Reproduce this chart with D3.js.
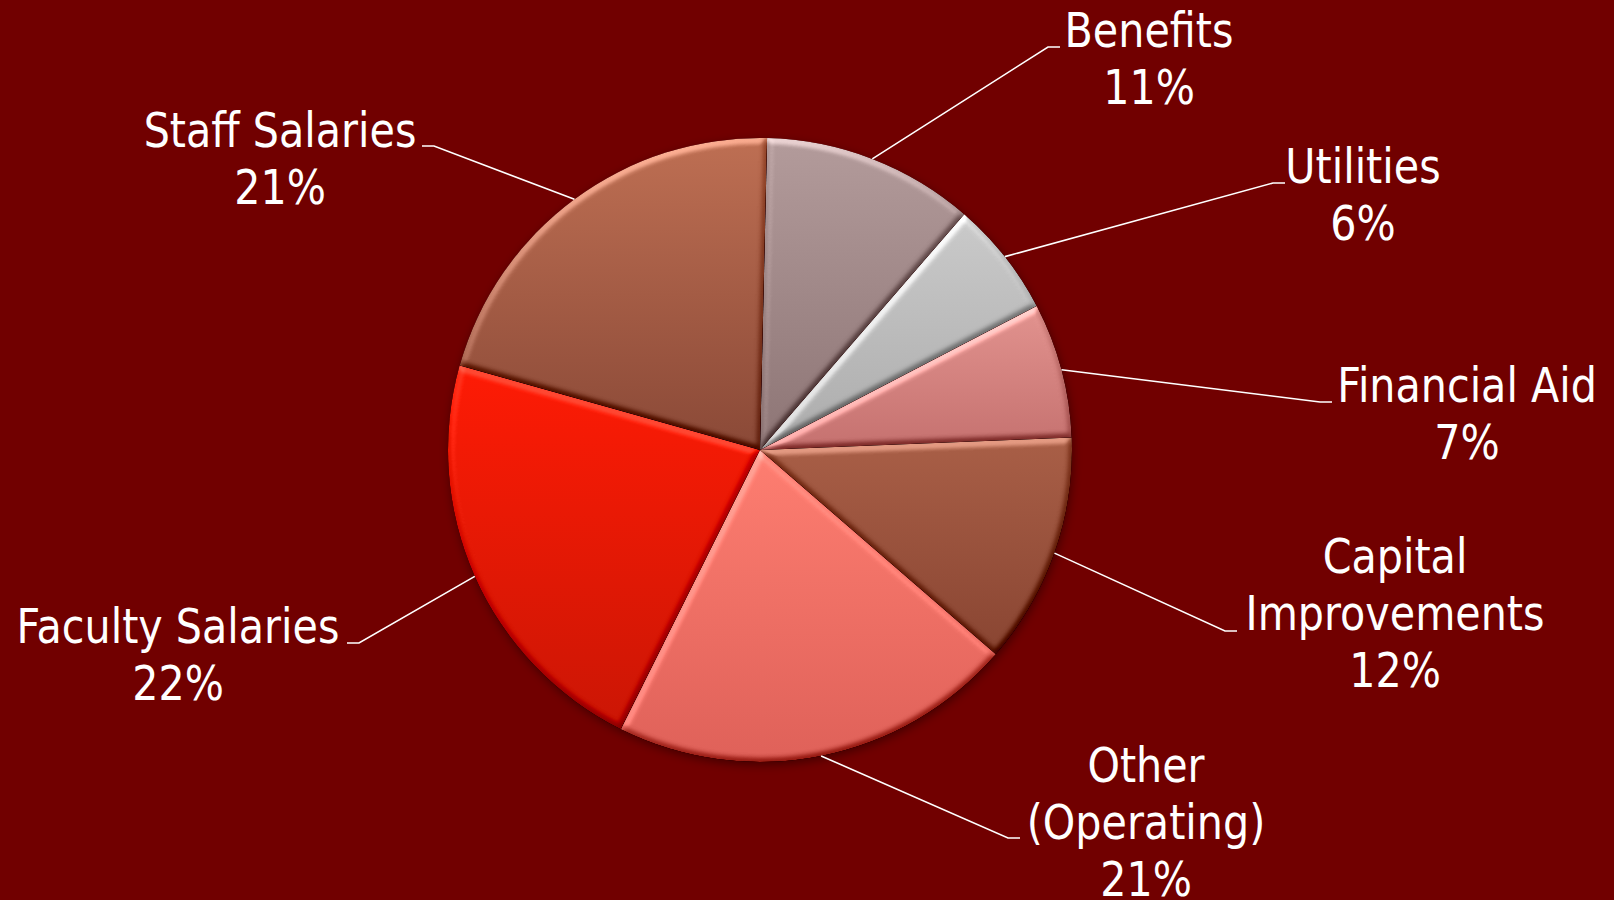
<!DOCTYPE html>
<html><head><meta charset="utf-8">
<script src="https://cdn.jsdelivr.net/npm/d3@7"></script>
<style>html,body{margin:0;padding:0;background:#710000;overflow:hidden}</style>
</head><body>
<svg id="chart" width="1614" height="900"></svg>
<script>
// ---- data ----
const categories = ["Benefits", "Utilities", "Financial Aid", "Capital Improvements", "Other (Operating)", "Faculty Salaries", "Staff Salaries"];
const values = [11, 6, 7, 12, 21, 22, 21];
const labelLines = [["Benefits"], ["Utilities"], ["Financial Aid"], ["Capital", "Improvements"], ["Other", "(Operating)"], ["Faculty Salaries"], ["Staff Salaries"]];
const percentLabels = ["11%", "6%", "7%", "12%", "21%", "22%", "21%"];

// ---- styles ----
const colorsTop    = ["#b49c9c", "#cbcbcb", "#e39490", "#aa6048", "#ff7f72", "#ff1c06", "#bf7054"];
const colorsBottom = ["#8e7676", "#adadad", "#c67270", "#8a4633", "#e0625a", "#cc1706", "#8b4a38"];

// ---- layout (label anchor relative to pie centre: centre-x, first baseline; leader end point) ----
const labelLayout = [
  {cx: 389, y: -403, lx: 300, ly: -403, dir: -1},
  {cx: 603, y: -267, lx: 525, ly: -267, dir: -1},
  {cx: 707, y: -48,  lx: 572, ly: -48,  dir: -1},
  {cx: 635, y: 123,  lx: 477, ly: 181,  dir: -1},
  {cx: 386, y: 332,  lx: 260, ly: 388,  dir: -1},
  {cx: -582, y: 193, lx: -413, ly: 193, dir: 1},
  {cx: -480, y: -303, lx: -338, ly: -304, dir: 1}
];

const W = 1614, H = 900;
const cx = 760, cy = 450, R = 312;
const fontSize = 48, lineH = 57, widthFactor = 0.86;

const svg = d3.select("#chart");
svg.append("rect").attr("width", W).attr("height", H).attr("fill", "#710000");

const defs = svg.append("defs");
categories.forEach((c, i) => {
  const g = defs.append("linearGradient").attr("id", "grad" + i)
    .attr("x1", 0).attr("y1", 0).attr("x2", 0).attr("y2", 1);
  g.append("stop").attr("offset", "0%").attr("stop-color", colorsTop[i]);
  g.append("stop").attr("offset", "100%").attr("stop-color", colorsBottom[i]);
});

// soft bevel: diffuse lighting of blurred alpha; shadows damped relative to highlights
const bevel = defs.append("filter").attr("id", "bevel")
  .attr("x", "-5%").attr("y", "-5%").attr("width", "110%").attr("height", "110%")
  .attr("color-interpolation-filters", "sRGB");
bevel.append("feGaussianBlur").attr("in", "SourceAlpha").attr("stdDeviation", 3.2).attr("result", "blur");
const dl = bevel.append("feDiffuseLighting").attr("in", "blur").attr("surfaceScale", 4.5)
  .attr("diffuseConstant", 1).attr("lighting-color", "white").attr("result", "light");
dl.append("feDistantLight").attr("azimuth", 250).attr("elevation", 45);
const tv = d3.range(0, 1.0001, 0.1).map(x => x >= 0.707 ? x : 0.707 - (0.707 - x) * 0.45).map(v => v.toFixed(4)).join(" ");
const ct = bevel.append("feComponentTransfer").attr("in", "light").attr("result", "light2");
["feFuncR", "feFuncG", "feFuncB"].forEach(f => ct.append(f).attr("type", "table").attr("tableValues", tv));
bevel.append("feComposite").attr("in", "light2").attr("in2", "SourceGraphic")
  .attr("operator", "arithmetic").attr("k1", 0).attr("k2", 0.85).attr("k3", 1).attr("k4", -0.85 * 0.7107).attr("result", "lit");
bevel.append("feComposite").attr("in", "lit").attr("in2", "SourceAlpha").attr("operator", "in");

const shadow = defs.append("filter").attr("id", "shadow")
  .attr("x", "-20%").attr("y", "-20%").attr("width", "140%").attr("height", "140%");
shadow.append("feGaussianBlur").attr("stdDeviation", 5);

const pie = d3.pie().sort(null).value(d => d)
  .startAngle(1.3 * Math.PI / 180).endAngle(2 * Math.PI + 1.3 * Math.PI / 180);
const arcs = pie(values);
const arc = d3.arc().innerRadius(0).outerRadius(R);

const g = svg.append("g").attr("transform", `translate(${cx},${cy})`);

g.append("circle").attr("cx", 1).attr("cy", 3).attr("r", R)
  .attr("fill", "#000").attr("opacity", 0.4).attr("filter", "url(#shadow)");

g.selectAll("path.slice").data(arcs).enter().append("path")
  .attr("class", "slice")
  .attr("d", arc)
  .attr("fill", (d, i) => `url(#grad${i})`)
  .attr("filter", "url(#bevel)");

// leader lines
const edge = d3.arc().innerRadius(R).outerRadius(R);
arcs.forEach((d, i) => {
  const p0 = edge.centroid(d);
  const L = labelLayout[i];
  const elbow = [L.lx + L.dir * 12, L.ly];
  g.append("polyline")
    .attr("points", [p0, elbow, [L.lx, L.ly]].map(p => p.join(",")).join(" "))
    .attr("fill", "none").attr("stroke", "#ffffff").attr("stroke-width", 1.6);
});

// labels (horizontally condensed to approximate Tahoma widths)
arcs.forEach((d, i) => {
  const L = labelLayout[i];
  const lines = labelLines[i].concat([percentLabels[i]]);
  const t = g.append("text")
    .attr("transform", `translate(${L.cx},${L.y}) scale(${widthFactor},1)`)
    .attr("text-anchor", "middle")
    .attr("font-family", "DejaVu Sans, Verdana, sans-serif")
    .attr("font-size", fontSize)
    .attr("fill", "#ffffff");
  lines.forEach((s, k) => {
    t.append("tspan").attr("x", 0).attr("y", k * lineH).text(s);
  });
});
</script>
</body></html>
